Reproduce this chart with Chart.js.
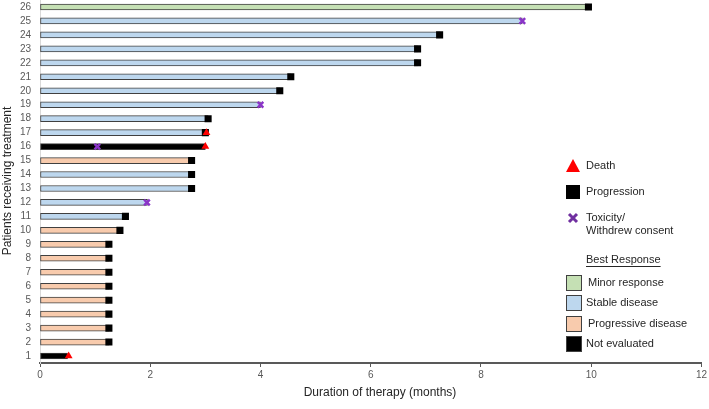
<!DOCTYPE html>
<html>
<head>
<meta charset="utf-8">
<script src="https://cdn.jsdelivr.net/npm/chart.js@4"></script>
<style>
  body { margin: 0; background: #fff; }
</style>
</head>
<body>
<canvas id="myChart" width="709" height="409"></canvas>
<script>
// patients 1..26, bottom to top
const patients = ['1','2','3','4','5','6','7','8','9','10','11','12','13','14','15','16','17','18','19','20','21','22','23','24','25','26'];
const duration = [0.5, 1.25, 1.25, 1.25, 1.25, 1.25, 1.25, 1.25, 1.25, 1.45, 1.55, 1.95, 2.75, 2.75, 2.75, 3.0, 3.0, 3.05, 4.0, 4.35, 4.55, 6.85, 6.85, 7.25, 8.75, 9.95];
const response = ['NE','PD','PD','PD','PD','PD','PD','PD','PD','PD','SD','SD','SD','SD','PD','NE','SD','SD','SD','SD','SD','SD','SD','SD','SD','MR'];
const xTicks = [0, 2, 4, 6, 8, 10, 12];

const deathPatients = ['1', '16', '17'];
const deathTimes = [0.52, 3.0, 3.02];
const progressionPatients = ['2','3','4','5','6','7','8','9','10','11','13','14','15','17','18','20','21','22','23','24','26'];
const progressionTimes = [1.25, 1.25, 1.25, 1.25, 1.25, 1.25, 1.25, 1.25, 1.45, 1.55, 2.75, 2.75, 2.75, 3.0, 3.05, 4.35, 4.55, 6.85, 6.85, 7.25, 9.95];
const toxicityPatients = ['12', '16', '19', '25'];
const toxicityTimes = [1.94, 1.04, 4.0, 8.75];

const responseColors = { MR: '#c5e0b4', SD: '#bdd7ee', PD: '#f8cbad', NE: '#000000' };
const purple = '#8a34c8';

function points(ps, ts) {
    return ps.map((p, i) => ({ x: ts[i], y: p }));
}

// titles + the hand made legend on the right
const extras = {
    id: 'extras',
    afterDraw(chart) {
        const c = chart.ctx;
        c.save();
        c.fillStyle = '#262626';
        c.font = '12px "Liberation Sans", Arial, sans-serif';
        c.textAlign = 'center';
        c.textBaseline = 'middle';
        c.fillText('Duration of therapy (months)', 380, 393);
        c.save();
        c.translate(8, 181);
        c.rotate(-Math.PI / 2);
        c.fillText('Patients receiving treatment', 0, 0);
        c.restore();

        // event markers
        c.fillStyle = '#ff0000';
        c.beginPath();
        c.moveTo(573, 159);
        c.lineTo(580, 172);
        c.lineTo(566, 172);
        c.closePath();
        c.fill();
        c.fillStyle = '#000';
        c.fillRect(566, 185, 14, 14);
        c.strokeStyle = '#7030a0';
        c.lineWidth = 3;
        c.beginPath();
        c.moveTo(569, 214); c.lineTo(577, 222);
        c.moveTo(577, 214); c.lineTo(569, 222);
        c.stroke();

        c.fillStyle = '#262626';
        c.font = '11px "Liberation Sans", Arial, sans-serif';
        c.textAlign = 'left';
        c.fillText('Death', 586, 166);
        c.fillText('Progression', 586, 192);
        c.fillText('Toxicity/', 586, 218);
        c.fillText('Withdrew consent', 586, 231);
        c.fillText('Best Response', 586, 260);
        const w = c.measureText('Best Response').width;
        c.strokeStyle = '#262626';
        c.lineWidth = 1;
        c.beginPath();
        c.moveTo(586, 266.5); c.lineTo(586 + w, 266.5);
        c.stroke();

        const boxes = [['MR', 'Minor response', 283, 588], ['SD', 'Stable disease', 303, 586], ['PD', 'Progressive disease', 324, 588], ['NE', 'Not evaluated', 344, 586]];
        boxes.forEach(b => {
            c.fillStyle = responseColors[b[0]];
            c.fillRect(566.5, b[2] - 7.5, 15, 15);
            c.strokeStyle = '#404040';
            c.strokeRect(566.5, b[2] - 7.5, 15, 15);
            c.fillStyle = '#262626';
            c.fillText(b[1], b[3], b[2]);
        });
        c.restore();
    }
};

const ctx = document.getElementById('myChart').getContext('2d');
const myChart = new Chart(ctx, {
    type: 'bar',
    data: {
        labels: patients,
        datasets: [
            {
                type: 'line',
                label: 'Death',
                data: points(deathPatients, deathTimes),
                showLine: false,
                pointStyle: 'triangle',
                pointRadius: 4.5,
                pointBackgroundColor: '#ff0000',
                pointBorderColor: '#ff0000',
                pointBorderWidth: 0,
                order: 0
            },
            {
                type: 'line',
                label: 'Toxicity',
                data: points(toxicityPatients, toxicityTimes),
                showLine: false,
                pointStyle: 'crossRot',
                pointRadius: 4,
                pointBorderColor: purple,
                pointBorderWidth: 2.5,
                order: 1
            },
            {
                type: 'line',
                label: 'Progression',
                data: points(progressionPatients, progressionTimes),
                showLine: false,
                pointStyle: 'rect',
                pointRadius: 5,
                pointBackgroundColor: '#000',
                pointBorderColor: '#000',
                pointBorderWidth: 0,
                order: 2
            },
            {
                label: 'Duration',
                data: duration,
                backgroundColor: response.map(r => responseColors[r]),
                borderColor: '#404040',
                borderWidth: 1,
                borderSkipped: false,
                barThickness: 6,
                order: 3
            }
        ]
    },
    options: {
        indexAxis: 'y',
        responsive: false,
        animation: false,
        layout: { padding: 0, autoPadding: false },
        plugins: {
            legend: { display: false },
            tooltip: { enabled: false }
        },
        scales: {
            x: {
                type: 'linear',
                min: 0,
                max: 12,
                afterBuildTicks: (scale) => { scale.ticks = xTicks.map(v => ({ value: v })); },
                afterFit: (scale) => { scale.height = 46; },
                border: { color: '#595959', width: 2 },
                grid: { display: true, drawOnChartArea: false, drawTicks: true, tickLength: 4, color: '#595959' },
                ticks: { color: '#595959', padding: 2, font: { size: 10, family: '"Liberation Sans", Arial, sans-serif' } }
            },
            y: {
                reverse: true,
                afterFit: (scale) => { scale.width = 40; scale.paddingTop = 0; scale.paddingBottom = 0; },
                border: { color: '#d9d9d9', width: 1 },
                grid: { display: false },
                ticks: { color: '#595959', padding: 1, autoSkip: false, font: { size: 10, family: '"Liberation Sans", Arial, sans-serif' } }
            }
        }
    },
    plugins: [extras]
});
</script>
</body>
</html>
